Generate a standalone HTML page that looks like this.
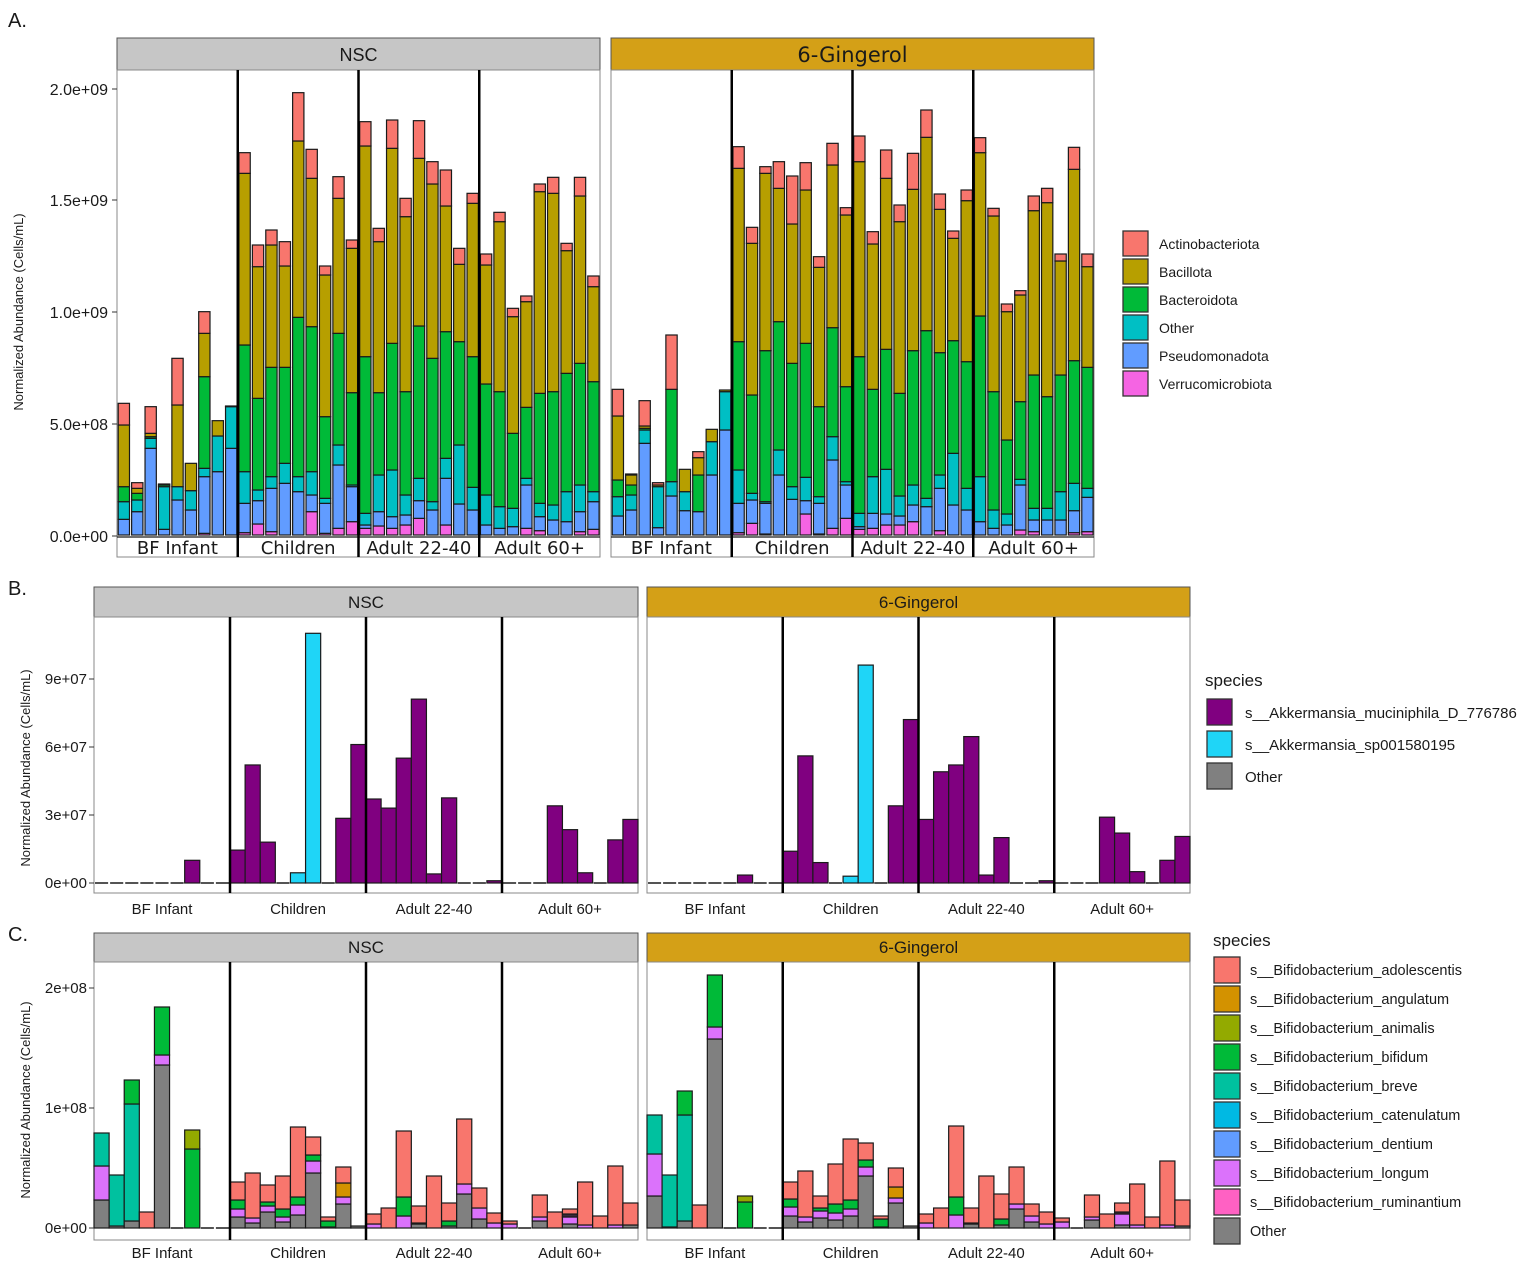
<!DOCTYPE html>
<html><head><meta charset="utf-8">
<style>
html,body{margin:0;padding:0;background:#fff;}
svg{display:block;font-family:"Liberation Sans",Arial,sans-serif;}
</style></head>
<body>
<svg id="s" xmlns="http://www.w3.org/2000/svg" width="1535" height="1266" viewBox="0 0 1535 1266"></svg>
<script>
var S=document.getElementById('s');var out=[];
function R(x,y,w,h,f,sw,st){out.push('<rect x="'+x.toFixed(2)+'" y="'+y.toFixed(2)+'" width="'+w.toFixed(2)+'" height="'+Math.max(h,0).toFixed(2)+'" fill="'+f+'" stroke="'+(st||'#1a1a1a')+'" stroke-width="'+(sw==null?1.3:sw)+'"/>');}
function L(x1,y1,x2,y2,c,w){out.push('<line x1="'+x1+'" y1="'+y1+'" x2="'+x2+'" y2="'+y2+'" stroke="'+c+'" stroke-width="'+w+'"/>');}
function T(x,y,t,sz,anc,extra){out.push('<text x="'+x+'" y="'+y+'" font-size="'+sz+'" fill="#1a1a1a" text-anchor="'+(anc||'start')+'" '+(extra||'')+'>'+t+'</text>');}
var GOLD='#D4A017',GRAY='#c6c6c6',DJ='font-family="DejaVu Sans, sans-serif"';
// ---------- Panel A ----------
var AC=['#F564E3','#619CFF','#00BFC4','#00BA38','#B79F00','#F8766D'];
var nsc=[
[1365,1318,1265,1220,1035,970],[1365,1295,1260,1240,1225,1208],[1365,1105,1075,1070,1060,980],[1365,1348,1220,1215,1215,1212],[1365,1260,1220,1220,975,835],[1365,1290,1232,1232,1150,1150],[1360,1190,1165,890,760,695],[1365,1175,1068,1068,1022,1022],[1365,1105,980,980,978,978],
[1358,1270,1175,795,280,218],[1332,1262,1230,955,560,495],[1355,1225,1190,862,495,450],[1365,1210,1150,862,558,485],[1365,1235,1190,712,183,38],[1295,1245,1175,740,295,208],[1360,1270,1255,1010,585,558],[1345,1155,1095,760,355,290],[1325,1220,1215,938,505,480],
[1345,1335,1300,830,198,125],[1338,1295,1185,938,485,445],[1345,1310,1170,790,205,120],[1335,1305,1245,935,410,355],[1315,1262,1195,738,235,122],[1365,1290,1265,835,312,245],[1335,1195,1135,755,378,270],[1365,1272,1095,785,553,505],[1365,1290,1222,830,370,340],
[1365,1335,1245,912,555,522],[1365,1345,1280,935,425,397],[1365,1340,1285,1060,710,685],[1345,1215,1195,982,665,648],[1352,1310,1270,940,335,312],[1365,1320,1275,935,340,292],[1365,1325,1235,880,512,490],[1355,1295,1215,850,348,292],[1348,1265,1235,905,620,588]];
var gin=[
[1365,1308,1250,1200,1008,928],[1365,1290,1245,1215,1185,1182],[1365,1090,1050,1045,1038,962],[1365,1343,1220,1220,1215,1208],[1365,1248,1205,928,928,765],[1365,1292,1235,1235,1168,1168],[1365,1295,1295,1185,1133,1115],[1365,1185,1085,1085,1048,1048],[1365,1050,935,935,930,930],
[1358,1270,1170,785,265,200],[1330,1260,1240,945,490,442],[1362,1270,1265,812,280,260],[1365,1185,1110,725,325,245],[1365,1258,1220,850,432,288],[1302,1262,1192,790,330,248],[1362,1270,1250,980,562,530],[1345,1140,1070,743,255,190],[1315,1215,1205,920,405,383],
[1348,1340,1300,830,245,168],[1345,1300,1190,928,492,455],[1335,1302,1168,808,295,210],[1335,1308,1248,940,425,375],[1325,1275,1215,812,328,220],[1365,1280,1255,752,172,90],[1352,1225,1185,818,388,342],[1365,1275,1120,782,475,453],[1365,1290,1225,845,362,330],
[1365,1325,1190,708,218,173],[1365,1345,1290,935,408,385],[1365,1335,1302,1080,695,672],[1350,1215,1198,965,645,632],[1355,1320,1285,885,392,348],[1365,1320,1285,950,368,325],[1365,1320,1235,885,543,522],[1358,1292,1210,842,268,202],[1355,1252,1225,862,560,522]];
function panelA(x0,data,title,tcol,tsz){
 var x1=x0+483;
 R(x0,38,483,32,tcol,1,'#555');
 T((x0+x1)/2,title=='NSC'?61:62,title,tsz,'middle',title=='NSC'?'':DJ);
 R(x0,70,483,487,'#fff',1,'#888');
 var sl=483/36;
 for(var i=0;i<36;i++){
  var b=data[i],bx=x0+1.2+i*sl,prev=1365;
  for(var k=0;k<6;k++){var top=b[k];if(prev-top>0.5){R(bx,top/3+80,11.3,(prev-top)/3,AC[k],1.2);}prev=top;}
 }
 L(x0,537,x1,537,'#1a1a1a',1.2);
 for(var g=1;g<4;g++){var gx=x0+g*120.75;L(gx,70,gx,557,'#000',2.5);}
 var labs=['BF Infant','Children','Adult 22-40','Adult 60+'];
 for(var g=0;g<4;g++){T(x0+60.4+g*120.75,554,labs[g],18,'middle',DJ);}
}
panelA(117,nsc,'NSC',GRAY,18);
panelA(611,gin,'6-Gingerol',GOLD,21);
var ya=[[89,'2.0e+09'],[200,'1.5e+09'],[312,'1.0e+09'],[424,'5.0e+08'],[536,'0.0e+00']];
ya.forEach(function(t){L(112,t[0],117,t[0],'#333',1);T(108,t[0]+6,t[1],16,'end');});
T(23,312,'Normalized Abundance (Cells/mL)',13,'middle','transform="rotate(-90 23 312)"');
T(8,27,'A.',20);
var an=['Actinobacteriota','Bacillota','Bacteroidota','Other','Pseudomonadota','Verrucomicrobiota'];
var acl=['#F8766D','#B79F00','#00BA38','#00BFC4','#619CFF','#F564E3'];
for(var i=0;i<6;i++){R(1123,231+i*28,25,25,acl[i],1.3,'#333');T(1159,249+i*28,an[i],14);}
// ---------- Panel B ----------
var PU='#800080',CY='#1FD5F7';
var bN=[[0,0,0,0,0,0,[PU,1.0],0,0],[[PU,1.45],[PU,5.2],[PU,1.8],0,[CY,0.45],[CY,11.0],0,[PU,2.85],[PU,6.1]],[[PU,3.7],[PU,3.3],[PU,5.5],[PU,8.1],[PU,0.4],[PU,3.75],0,0,[PU,0.1]],[0,0,0,[PU,3.4],[PU,2.35],[PU,0.45],0,[PU,1.9],[PU,2.8]]];
var bG=[[0,0,0,0,0,0,[PU,0.35],0,0],[[PU,1.4],[PU,5.6],[PU,0.9],0,[CY,0.3],[CY,9.6],0,[PU,3.4],[PU,7.2]],[[PU,2.8],[PU,4.9],[PU,5.2],[PU,6.45],[PU,0.35],[PU,2.0],0,0,[PU,0.1]],[0,0,0,[PU,2.9],[PU,2.2],[PU,0.5],0,[PU,1.0],[PU,2.05]]];
function panelB(x0,w,data,title,tcol){
 R(x0,587,w,30,tcol,1,'#555');T(x0+w/2,608,title,17,'middle');
 R(x0,617,w,276,'#fff',1,'#888');
 var sl=w/36;
 for(var g=0;g<4;g++)for(var i=0;i<9;i++){var d=data[g][i],bx=x0+(g*9+i)*sl;
  if(d){var h=d[1]*22.7;R(bx,883-h,sl,h,d[0],1.2);}else{L(bx+1,883,bx+sl-1,883,'#1a1a1a',1.5);} }
 var labs=['BF Infant','Children','Adult 22-40','Adult 60+'];
 for(var g=1;g<4;g++){var gx=x0+g*w/4;L(gx,617,gx,893,'#000',2.5);}
 for(var g=0;g<4;g++)T(x0+w/8+g*w/4,914,labs[g],15,'middle');
}
panelB(94,544,bN,'NSC',GRAY);
panelB(647,543,bG,'6-Gingerol',GOLD);
[[679,'9e+07'],[747,'6e+07'],[815,'3e+07'],[883,'0e+00']].forEach(function(t){L(89,t[0],94,t[0],'#333',1);T(87,t[0]+5,t[1],15,'end');});
T(30,768,'Normalized Abundance (Cells/mL)',13,'middle','transform="rotate(-90 30 768)"');
T(8,595,'B.',20);
T(1205,686,'species',17);
var bl=[['s__Akkermansia_muciniphila_D_776786',PU],['s__Akkermansia_sp001580195',CY],['Other','#808080']];
for(var i=0;i<3;i++){R(1207,699+i*32,25,26,bl[i][1],1.3,'#333');T(1245,718+i*32,bl[i][0],15);}
// ---------- Panel C ----------
var C={a:'#F8766D',g:'#D39200',n:'#93AA00',b:'#00BA38',r:'#00C19F',c:'#00B9E3',d:'#619CFF',l:'#DB72FB',u:'#FF61C3',o:'#808080',k:'#3a2a3a'};
var cN=[
[[['o',28],['l',62],['r',95]],[['o',2],['r',53]],[['o',7],['r',124],['b',148]],[['a',16]],[['o',163],['l',173],['b',221]],0,[['b',79],['n',98]],0,0],
[[['o',11],['l',19],['b',28],['a',46]],[['o',5],['l',10],['a',55]],[['o',16],['l',22],['b',26],['a',43]],[['o',6],['l',11],['b',19],['a',52]],[['o',13],['l',23],['b',31],['a',101]],[['o',55],['l',67],['b',73],['a',91]],[['o',1],['b',7],['a',11]],[['o',24],['l',31],['g',45],['a',61]],[['o',2]]],
[[['l',4],['a',14]],[['a',20]],[['l',12],['b',31],['a',97]],[['o',4],['l',5],['a',22]],[['a',52]],[['o',2],['b',7],['a',25]],[['o',34],['l',44],['a',109]],[['o',9],['l',20],['a',40]],[['l',5],['a',15]]],
[[['l',4],['a',7]],0,[['o',7],['l',11],['a',33]],[['a',16]],[['o',4],['l',11],['k',14],['a',19]],[['l',3],['a',46]],[['a',12]],[['l',3],['a',62]],[['o',3],['a',25]]]];
var cG=[
[[['o',32],['l',74],['r',113]],[['o',1],['r',53]],[['o',7],['r',113],['b',137]],[['a',23]],[['o',189],['l',201],['b',253]],0,[['b',26],['n',32]],0,0],
[[['o',12],['l',21],['b',29],['a',46]],[['o',6],['l',11],['a',57]],[['o',10],['l',17],['b',20],['a',32]],[['o',8],['l',15],['b',24],['a',64]],[['o',12],['l',19],['b',28],['a',89]],[['o',52],['l',61],['b',68],['a',85]],[['o',1],['b',9],['a',12]],[['o',25],['l',30],['g',41],['a',60]],[['o',2]]],
[[['l',5],['a',14]],[['a',20]],[['l',13],['b',31],['a',102]],[['o',4],['l',5],['a',20]],[['a',52]],[['o',3],['b',9],['a',34]],[['o',19],['l',24],['a',61]],[['o',6],['l',12],['a',24]],[['l',4],['a',16]]],
[[['l',6],['a',10]],0,[['o',8],['l',11],['a',33]],[['a',14]],[['o',3],['l',14],['k',16],['a',25]],[['l',3],['a',44]],[['a',11]],[['l',3],['a',67]],[['o',2],['a',28]]]];
function panelC(x0,w,data,title,tcol){
 R(x0,933,w,29,tcol,1,'#555');T(x0+w/2,953,title,17,'middle');
 R(x0,962,w,278,'#fff',1,'#888');
 var sl=w/36;
 for(var g=0;g<4;g++)for(var i=0;i<9;i++){var d=data[g][i],bx=x0+(g*9+i)*sl;
  if(d){var prev=0;d.forEach(function(s){var h=s[1]-prev;if(h>0)R(bx,1228-s[1],sl,h,C[s[0]],1.2);prev=s[1];});}
  else L(bx+1,1228,bx+sl-1,1228,'#1a1a1a',1.5);}
 var labs=['BF Infant','Children','Adult 22-40','Adult 60+'];
 for(var g=1;g<4;g++){var gx=x0+g*w/4;L(gx,962,gx,1240,'#000',2.5);}
 for(var g=0;g<4;g++)T(x0+w/8+g*w/4,1258,labs[g],15,'middle');
}
panelC(94,544,cN,'NSC',GRAY);
panelC(647,543,cG,'6-Gingerol',GOLD);
[[988,'2e+08'],[1108,'1e+08'],[1228,'0e+00']].forEach(function(t){L(89,t[0],94,t[0],'#333',1);T(87,t[0]+5,t[1],15,'end');});
T(30,1100,'Normalized Abundance (Cells/mL)',13,'middle','transform="rotate(-90 30 1100)"');
T(8,941,'C.',20);
T(1213,946,'species',17);
var cl=[['s__Bifidobacterium_adolescentis','a'],['s__Bifidobacterium_angulatum','g'],['s__Bifidobacterium_animalis','n'],['s__Bifidobacterium_bifidum','b'],['s__Bifidobacterium_breve','r'],['s__Bifidobacterium_catenulatum','c'],['s__Bifidobacterium_dentium','d'],['s__Bifidobacterium_longum','l'],['s__Bifidobacterium_ruminantium','u'],['Other','o']];
for(var i=0;i<10;i++){R(1214,957+i*29,26,26,C[cl[i][1]],1.3,'#333');T(1250,975+i*29,cl[i][0],14.5);}
S.innerHTML=out.join('');
</script>
</body></html>
